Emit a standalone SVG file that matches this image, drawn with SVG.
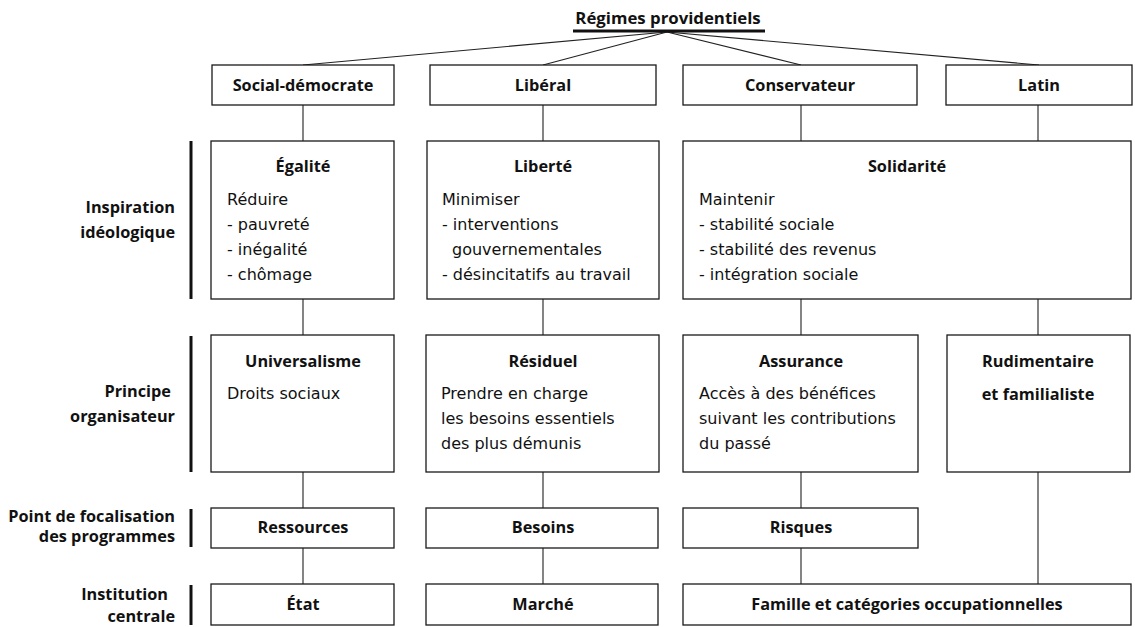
<svg xmlns="http://www.w3.org/2000/svg" width="1135" height="627" viewBox="0 0 1135 627">
<style>
.box{fill:#fff;stroke:#1a1a1a;stroke-width:1.3}
.bar{stroke:#111;stroke-width:3}
.con{stroke:#222;stroke-width:1.1;fill:none}
text{font-family:"DejaVu Sans","Noto Sans",sans-serif;fill:#111}
.h,.lab{font-family:"Open Sans","Noto Sans",sans-serif;font-size:16.3px;font-weight:bold}
.h{text-anchor:middle}
.lab{text-anchor:end}
.b{font-size:16px}
</style>
<rect width="1135" height="627" fill="#fff"/>
<g id="connectors">
<line class="con" x1="667" y1="32" x2="303" y2="65"/>
<line class="con" x1="667" y1="32" x2="543" y2="65"/>
<line class="con" x1="667" y1="32" x2="801" y2="65"/>
<line class="con" x1="667" y1="32" x2="1039" y2="65"/>
<path class="con" d="M303 105V141M303 299V335M303 472V508M303 548V584"/>
<path class="con" d="M543 105V141M543 299V335M543 472V508M543 548V584"/>
<path class="con" d="M801 105V141M801 299V335M801 472V508M801 548V584"/>
<path class="con" d="M1038 105V141M1038 299V335M1038 472V584"/>
</g>
<g id="title">
<text class="h" x="668" y="24" style="font-size:16.8px">Régimes providentiels</text>
<line x1="573" y1="31" x2="765" y2="31" stroke="#111" stroke-width="3"/>
</g>
<g id="labels">
<line class="bar" x1="191" y1="141" x2="191" y2="299"/>
<text class="lab" x="175" y="213">Inspiration</text>
<text class="lab" x="175" y="238">idéologique</text>
<line class="bar" x1="191" y1="336" x2="191" y2="472"/>
<text class="lab" x="171" y="397">Principe</text>
<text class="lab" x="175" y="422">organisateur</text>
<line class="bar" x1="191" y1="509" x2="191" y2="547"/>
<text class="lab" x="175" y="522">Point de focalisation</text>
<text class="lab" x="175" y="542">des programmes</text>
<line class="bar" x1="191" y1="585" x2="191" y2="625"/>
<text class="lab" x="168" y="600">Institution</text>
<text class="lab" x="175" y="622">centrale</text>
</g>
<g id="social-democrate"><rect class="box" x="212" y="65" width="182" height="40"/><text class="h" x="303" y="91">Social-démocrate</text></g>
<g id="liberal"><rect class="box" x="430" y="65" width="226" height="40"/><text class="h" x="543" y="91">Libéral</text></g>
<g id="conservateur"><rect class="box" x="683" y="65" width="234" height="40"/><text class="h" x="800" y="91">Conservateur</text></g>
<g id="latin"><rect class="box" x="946" y="65" width="186" height="40"/><text class="h" x="1039" y="91">Latin</text></g>

<g id="egalite"><rect class="box" x="211" y="141" width="183" height="158"/>
<text class="h" x="303" y="172">Égalité</text>
<text class="b" x="227" y="205">Réduire</text>
<text class="b" x="227" y="230">- pauvreté</text>
<text class="b" x="227" y="255">- inégalité</text>
<text class="b" x="227" y="280">- chômage</text></g>
<g id="liberte"><rect class="box" x="427" y="141" width="232" height="158"/>
<text class="h" x="543" y="172">Liberté</text>
<text class="b" x="442" y="205">Minimiser</text>
<text class="b" x="442" y="230">- interventions</text>
<text class="b" x="452" y="255">gouvernementales</text>
<text class="b" x="442" y="280">- désincitatifs au travail</text></g>
<g id="solidarite"><rect class="box" x="683" y="141" width="448" height="158"/>
<text class="h" x="907" y="172">Solidarité</text>
<text class="b" x="699" y="205">Maintenir</text>
<text class="b" x="699" y="230">- stabilité sociale</text>
<text class="b" x="699" y="255">- stabilité des revenus</text>
<text class="b" x="699" y="280">- intégration sociale</text></g>

<g id="universalisme"><rect class="box" x="211" y="335" width="183" height="137"/>
<text class="h" x="303" y="367">Universalisme</text>
<text class="b" x="227" y="399">Droits sociaux</text></g>
<g id="residuel"><rect class="box" x="426" y="335" width="233" height="137"/>
<text class="h" x="543" y="367">Résiduel</text>
<text class="b" x="441" y="399">Prendre en charge</text>
<text class="b" x="441" y="424">les besoins essentiels</text>
<text class="b" x="441" y="449">des plus démunis</text></g>
<g id="assurance"><rect class="box" x="683" y="335" width="235" height="137"/>
<text class="h" x="801" y="367">Assurance</text>
<text class="b" x="699" y="399">Accès à des bénéfices</text>
<text class="b" x="699" y="424">suivant les contributions</text>
<text class="b" x="699" y="449">du passé</text></g>
<g id="rudimentaire"><rect class="box" x="947" y="335" width="183" height="137"/>
<text class="h" x="1038" y="367">Rudimentaire</text>
<text class="h" x="1038" y="400">et familialiste</text></g>

<g id="ressources"><rect class="box" x="211" y="508" width="183" height="40"/><text class="h" x="303" y="533">Ressources</text></g>
<g id="besoins"><rect class="box" x="426" y="508" width="232" height="40"/><text class="h" x="543" y="533">Besoins</text></g>
<g id="risques"><rect class="box" x="683" y="508" width="235" height="40"/><text class="h" x="801" y="533">Risques</text></g>

<g id="etat"><rect class="box" x="211" y="584" width="183" height="41"/><text class="h" x="303" y="610">État</text></g>
<g id="marche"><rect class="box" x="426" y="584" width="232" height="41"/><text class="h" x="543" y="610">Marché</text></g>
<g id="famille"><rect class="box" x="683" y="584" width="448" height="41"/><text class="h" x="907" y="610">Famille et catégories occupationnelles</text></g>
</svg>
